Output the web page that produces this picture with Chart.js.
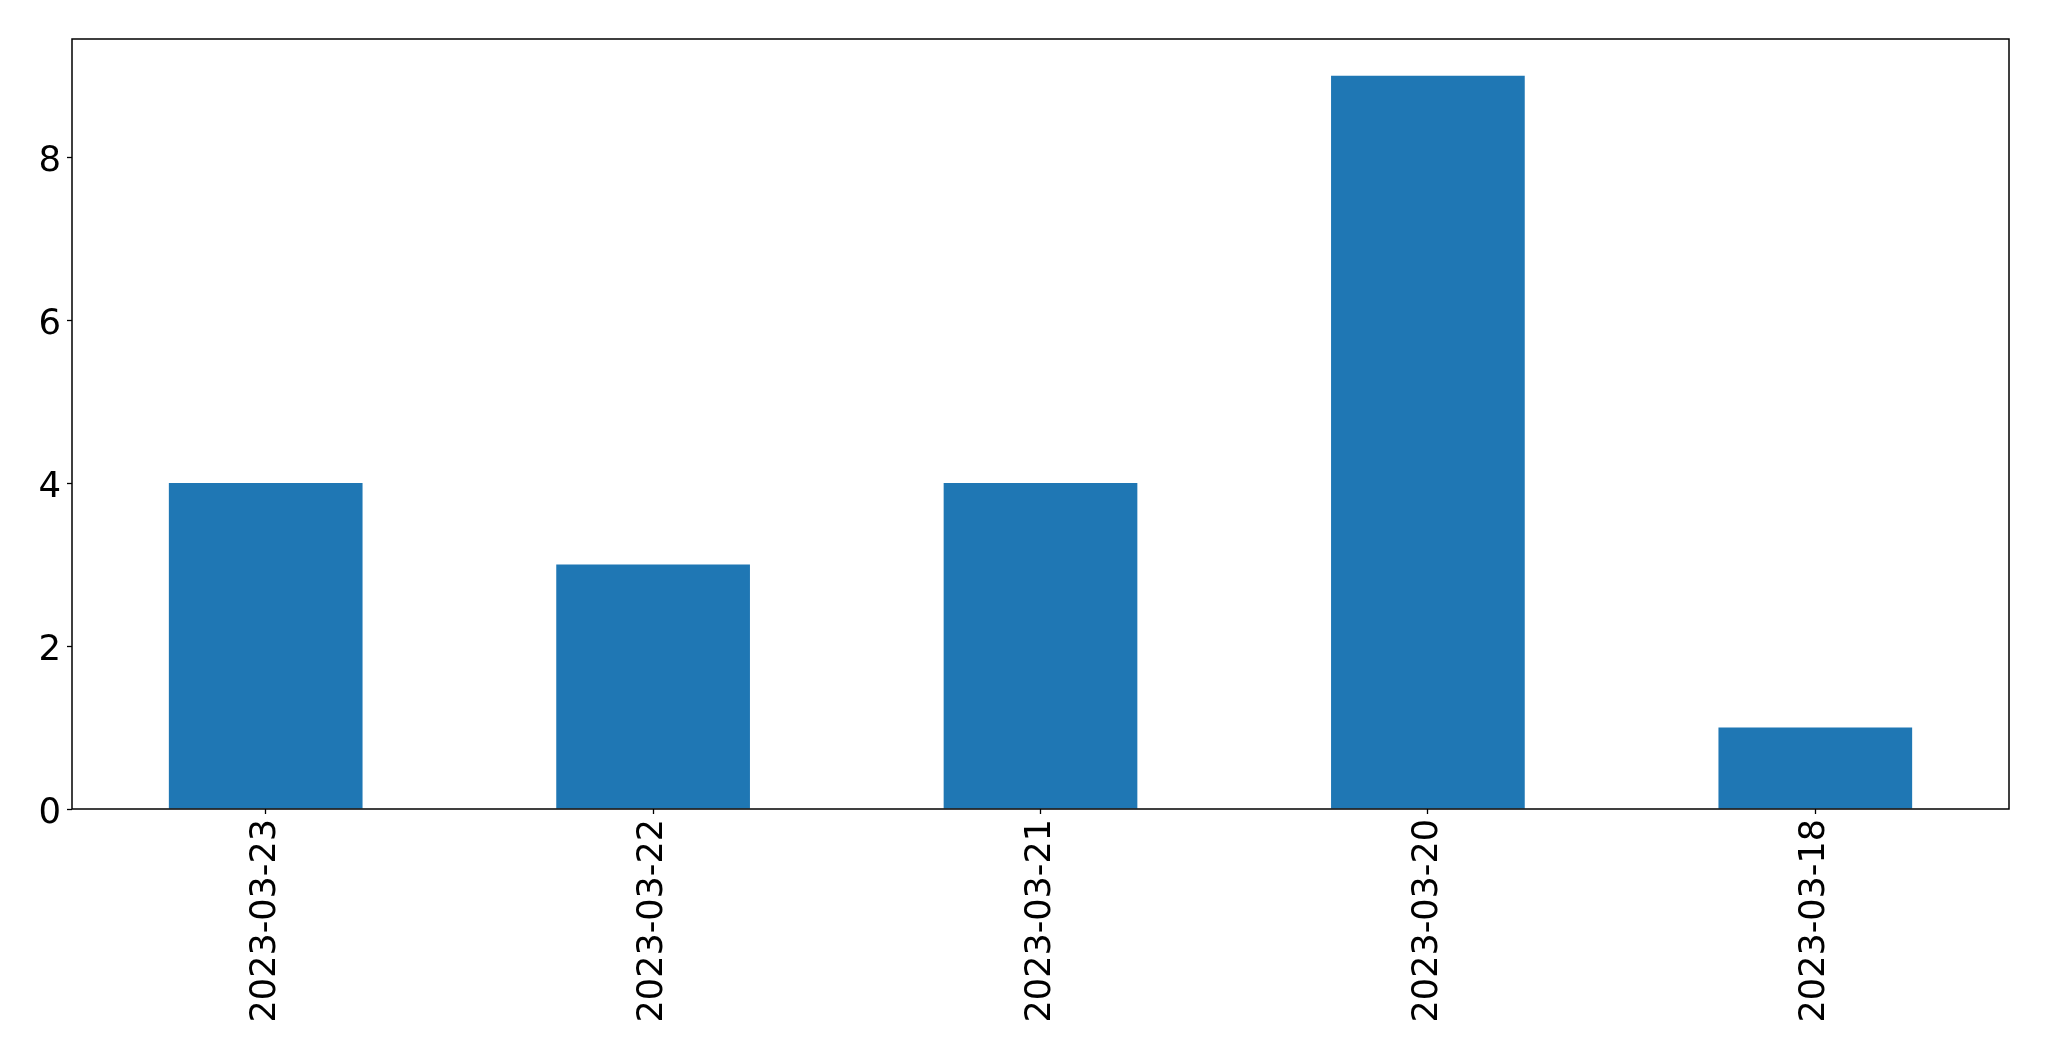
<!DOCTYPE html>
<html>
<head>
<meta charset="utf-8">
<script src="https://cdn.jsdelivr.net/npm/chart.js@4/dist/chart.umd.min.js"></script>
<style>
  html, body { margin: 0; padding: 0; background: #ffffff; }
  #wrap { width: 2049px; height: 1061px; position: relative; }
</style>
</head>
<body>
<div id="wrap"><canvas id="c" width="2049" height="1061"></canvas></div>
<script>
const categories = ["2023-03-23", "2023-03-22", "2023-03-21", "2023-03-20", "2023-03-18"];
const counts = [4, 3, 4, 9, 1];
const yTicks = [0, 2, 4, 6, 8];
const yMax = 9.45;

const frame = {
  id: 'frame',
  afterDraw(chart) {
    const a = chart.chartArea, ctx = chart.ctx;
    ctx.save();
    ctx.strokeStyle = '#000';
    ctx.lineWidth = 1.5;
    ctx.strokeRect(a.left, a.top, a.right - a.left, a.bottom - a.top);
    ctx.restore();
  }
};

Chart.defaults.font.family = "'DejaVu Sans', sans-serif";
Chart.defaults.color = '#000';

new Chart(document.getElementById('c'), {
  type: 'bar',
  data: {
    labels: categories,
    datasets: [{
      data: counts,
      backgroundColor: '#1f77b4',
      borderWidth: 0,
      barPercentage: 0.5,
      categoryPercentage: 1.0
    }]
  },
  options: {
    responsive: false,
    animation: false,
    devicePixelRatio: 1,
    layout: { padding: { left: 0, top: 39, right: 40, bottom: 0 } },
    plugins: { legend: { display: false }, tooltip: { enabled: false } },
    scales: {
      x: {
        offset: true,
        grid: { display: true, drawOnChartArea: false, offset: false, tickLength: 5, tickColor: '#000', tickWidth: 1.3 },
        border: { display: false },
        ticks: { minRotation: 90, maxRotation: 90, padding: 5, font: { size: 35 }, color: '#000' },
        afterFit(s) { s.height = 1061 - 809; }
      },
      y: {
        min: 0, max: yMax,
        grid: { display: true, drawOnChartArea: false, tickLength: 5, tickColor: '#000', tickWidth: 1.3 },
        border: { display: false },
        ticks: { padding: 6, labelOffset: 5, font: { size: 35.5 }, color: '#000' },
        afterBuildTicks(s) { s.ticks = yTicks.map(v => ({ value: v })); },
        afterFit(s) { s.width = 72; }
      }
    }
  },
  plugins: [frame]
});
</script>
</body>
</html>
